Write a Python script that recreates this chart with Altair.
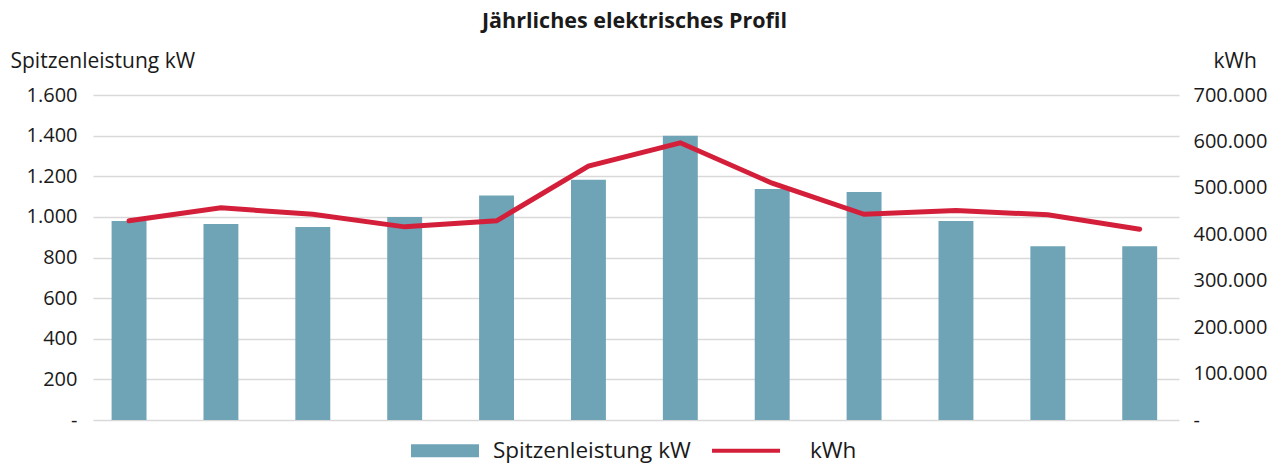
import altair as alt
import pandas as pd

months = ["Jan", "Feb", "Mär", "Apr", "Mai", "Jun", "Jul", "Aug", "Sep", "Okt", "Nov", "Dez"]
peak_kw = [980, 965, 950, 1000, 1105, 1183, 1400, 1137, 1122, 980, 855, 855]
energy_kwh = [429000, 457000, 443000, 416000, 429000, 547000, 597000, 510000, 443000, 451000, 442000, 411000]
series_names = ["Spitzenleistung kW", "kWh"]
left_ticks = [0, 200, 400, 600, 800, 1000, 1200, 1400, 1600]
right_ticks = [0, 100000, 200000, 300000, 400000, 500000, 600000, 700000]

BLUE = "#6FA3B6"
RED = "#D41F3A"
FONT = "Open Sans"
TXT = "#1a1a1a"

df = pd.DataFrame({
    "Monat": months,
    "kW": peak_kw,
    "kWh": energy_kwh,
    "Serie": [series_names[0]] * len(months),
})

label_expr = "datum.value == 0 ? '-' : replace(format(datum.value, ','), ',', '.')"

x = alt.X("Monat:N", sort=months, axis=None,
          scale=alt.Scale(paddingInner=0.62, paddingOuter=0.22, align=0.46))

bars = alt.Chart(df).mark_bar(opacity=1).encode(
    x=x,
    y=alt.Y("kW:Q",
            scale=alt.Scale(domain=[0, 1600], nice=False),
            axis=alt.Axis(values=left_ticks, labelExpr=label_expr,
                          title="Spitzenleistung kW", titleAngle=0,
                          titleX=-83, titleY=-28, titleAlign="left",
                          titleBaseline="alphabetic", titleFontWeight="normal",
                          titleFontSize=21, titleFont=FONT, titleColor=TXT,
                          titleLimit=0,
                          labelFontSize=20, labelFont=FONT, labelColor=TXT,
                          labelPadding=16, domain=False, ticks=False,
                          grid=True, gridColor="#D9D9D9", gridWidth=1.5)),
    color=alt.Color("Serie:N",
                    scale=alt.Scale(domain=series_names, range=[BLUE, RED]),
                    legend=alt.Legend(
                        title=None, orient="none", legendX=318, legendY=321.5,
                        direction="horizontal", padding=0,
                        symbolType=alt.ExprRef(expr="datum.value == 'kWh' ? 'M-1.47,-0.06H0.53V0.06H-1.47Z' : 'M-1,-0.19H1V0.19H-1Z'"),
                        symbolSize=4624, symbolStrokeWidth=0, symbolOpacity=1,
                        labelFontSize=22.5, labelFont=FONT, labelColor=TXT,
                        labelLimit=0, labelOffset=14, columnPadding=21)),
)

line = alt.Chart(df).mark_line(color=RED, strokeWidth=5, strokeCap="round").encode(
    x=x,
    y=alt.Y("kWh:Q",
            scale=alt.Scale(domain=[0, 700000], nice=False),
            axis=alt.Axis(orient="right", values=right_ticks, labelExpr=label_expr,
                          title="kWh", titleAngle=0, titleX=34, titleY=-28,
                          titleAlign="left", titleBaseline="alphabetic",
                          titleFontWeight="normal", titleFontSize=21,
                          titleFont=FONT, titleColor=TXT,
                          labelFontSize=20, labelFont=FONT, labelColor=TXT,
                          labelPadding=14, domain=False, ticks=False, grid=False)),
)

chart = alt.layer(bars, line).resolve_scale(y="independent").properties(
    width=1086, height=325,
    padding={"left": 85, "top": 87, "right": 93, "bottom": 44},
    autosize=alt.AutoSizeParams(type="none"),
    title=alt.TitleParams("Jährliches elektrisches Profil", fontSize=21.5,
                          fontWeight="bold", font=FONT, color=TXT,
                          anchor="middle", dx=-1.5, dy=-14),
).configure_view(stroke=None)

chart.save("out.html", embed_options={"renderer": "svg", "actions": False})
